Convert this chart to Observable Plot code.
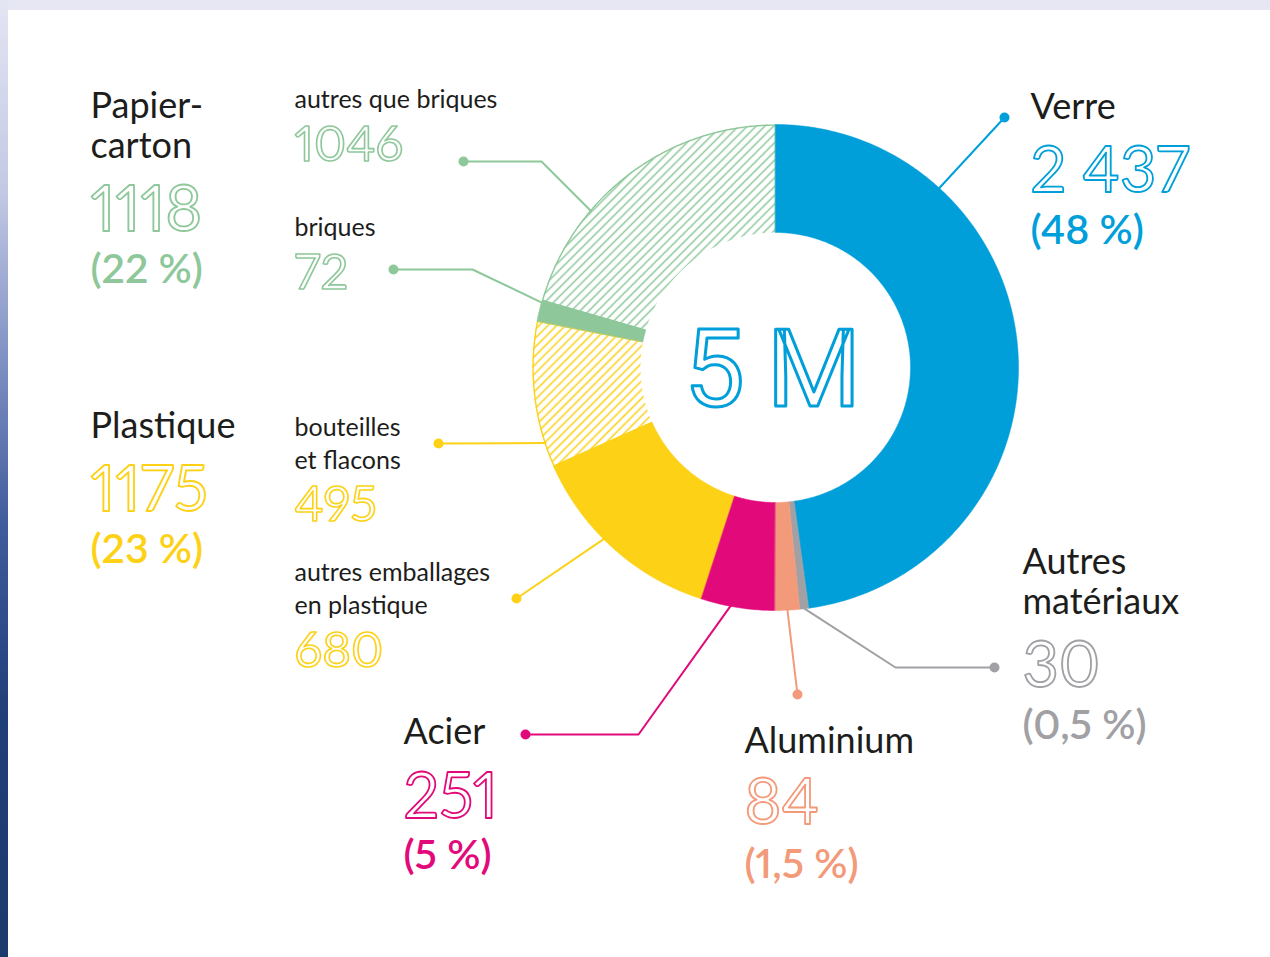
<!DOCTYPE html>
<html><head><meta charset="utf-8">
<script src="https://cdn.jsdelivr.net/npm/d3@7"></script>
<script src="https://cdn.jsdelivr.net/npm/@observablehq/plot@0.6"></script>
<style>
html,body{margin:0;padding:0;background:#fff;}
#frame{position:relative;width:1270px;height:957px;overflow:hidden;background:#fff;}
#topband{position:absolute;left:0;top:0;width:1270px;height:10px;background:#e6e7f2;}
#leftband{position:absolute;left:0;top:0;width:8px;height:957px;
  background:linear-gradient(to bottom,#e3e5f2 0%,#c3c9e4 20%,#7e8fc2 38%,#3f5b9b 55%,#1f3f78 75%,#1b3a6c 100%);}
#chart{position:absolute;left:0;top:0;}
#chart text{font-variant-numeric:proportional-nums;}
</style></head>
<body>
<div id="frame"><div id="topband"></div><div id="leftband"></div><div id="chart"></div></div>
<svg width="0" height="0" style="position:absolute;left:0;top:0">
  <defs>
    <pattern id="hatch-green" patternUnits="userSpaceOnUse" width="6.2" height="6.2" patternTransform="rotate(45)">
      <rect width="6.2" height="6.2" fill="#fff"/>
      <line x1="3.1" y1="-1" x2="3.1" y2="7.2" stroke="#8ec89a" stroke-width="1.5"/>
    </pattern>
    <pattern id="hatch-yellow" patternUnits="userSpaceOnUse" width="6.2" height="6.2" patternTransform="rotate(45)">
      <rect width="6.2" height="6.2" fill="#fff"/>
      <line x1="3.1" y1="-1" x2="3.1" y2="7.2" stroke="#fcd116" stroke-width="1.5"/>
    </pattern>
  </defs>
</svg>
<script>
// ---------- DATA ----------
const sliceNames  = ["Verre", "Autres matériaux", "Aluminium", "Acier",
                     "autres emballages en plastique", "bouteilles et flacons",
                     "briques", "autres que briques"];
const sliceValues = [2437, 30, 84, 251, 680, 495, 72, 1046];
const sliceGroups = ["Verre", "Autres matériaux", "Aluminium", "Acier",
                     "Plastique", "Plastique", "Papier-carton", "Papier-carton"];
const sliceHatched = [false, false, false, false, false, true, false, true];

const groupNames  = ["Verre", "Autres matériaux", "Aluminium", "Acier", "Plastique", "Papier-carton"];
const groupTitles = ["Verre", "Autres\nmatériaux", "Aluminium", "Acier", "Plastique", "Papier-\ncarton"];
const groupValueLabels = ["2 437", "30", "84", "251", "1175", "1118"];
const groupShareLabels = ["(48\u00A0%)", "(0,5\u00A0%)", "(1,5\u00A0%)", "(5\u00A0%)", "(23\u00A0%)", "(22\u00A0%)"];

const subNames  = ["autres emballages\nen plastique", "bouteilles\net flacons", "briques", "autres que briques"];
const subValueLabels = ["680", "495", "72", "1046"];
const totalLabel = "5\u2009M";

// ---------- STYLE ----------
const groupColors = {
  "Verre": "#009fda", "Autres matériaux": "#a0a0a5", "Aluminium": "#f39a7b",
  "Acier": "#e2097a", "Plastique": "#fcd116", "Papier-carton": "#8ec89a"
};
const hatchFill = {"Plastique": "url(#hatch-yellow)", "Papier-carton": "url(#hatch-green)"};
const ink = "#1d1d1b";
const font = "Lato, 'Open Sans', sans-serif";
const numFont = "Lato, Roboto, sans-serif";
const bigFont = "Roboto, Lato, sans-serif";

// ---------- LAYOUT ----------
const donut = {cx: 775, cy: 367, r0: 135, r1: 243};
const groupLayout = {
  "Verre":            {x: 1030, title: 118, value: 191, share: 243},
  "Autres matériaux": {x: 1022, title: 613, value: 686, share: 738},
  "Aluminium":        {x: 744,  title: 752, value: 823, share: 877},
  "Acier":            {x: 403,  title: 743, value: 817, share: 868},
  "Plastique":        {x: 90,   title: 437, value: 510, share: 562},
  "Papier-carton":    {x: 90,   title: 157, value: 230, share: 282}
};
const subLayout = {
  "autres emballages\nen plastique": {x: 294, title: 613, value: 666},
  "bouteilles\net flacons":          {x: 294, title: 468, value: 520},
  "briques":                         {x: 294, title: 235, value: 288},
  "autres que briques":              {x: 294, title: 107, value: 160}
};
// leader lines: slice index, attachment angle (deg, clockwise from top), elbow, dot
const leaders = [
  {slice: 0, angle: 42.4,  elbow: null,       dot: [1004, 117]},
  {slice: 1, angle: 173.4, elbow: [895, 667], dot: [994, 667]},
  {slice: 2, angle: 177.2, elbow: null,       dot: [797, 694]},
  {slice: 3, angle: 190.6, elbow: [638, 734], dot: [525, 734]},
  {slice: 4, angle: 225,   elbow: null,       dot: [516, 598]},
  {slice: 5, angle: 251.8, elbow: null,       dot: [438, 443]},
  {slice: 6, angle: 285.5, elbow: [472, 269], dot: [393, 269]},
  {slice: 7, angle: 310.3, elbow: [541, 161], dot: [463, 161]}
];

// ---------- GEOMETRY ----------
const pie = d3.pie().sort(null).value(d => d).startAngle(0).endAngle(2 * Math.PI)(sliceValues);
const pt = (a, r) => ({x: donut.cx + r * Math.sin(a), y: donut.cy - r * Math.cos(a)});
function ring(a0, a1) {
  const n = Math.max(2, Math.ceil((a1 - a0) / 0.01));
  const out = d3.range(n + 1).map(i => pt(a0 + (a1 - a0) * i / n, donut.r1));
  const inn = d3.range(n + 1).map(i => pt(a1 - (a1 - a0) * i / n, donut.r0));
  return out.concat(inn);
}
function outline(a0, a1) {
  const n = Math.max(2, Math.ceil((a1 - a0) / 0.01));
  return [pt(a0, donut.r0 + 1)]
    .concat(d3.range(n + 1).map(i => pt(a0 + (a1 - a0) * i / n, donut.r1 - 0.6)))
    .concat([pt(a1, donut.r0 + 1)]);
}

const marks = [];
pie.forEach((p, i) => {
  if (!sliceHatched[i]) return;
  const g = sliceGroups[i];
  marks.push(Plot.line(ring(p.startAngle, p.endAngle), {x: "x", y: "y", curve: "linear-closed", fill: hatchFill[g], stroke: "none"}));
  marks.push(Plot.line(outline(p.startAngle, p.endAngle), {x: "x", y: "y", stroke: groupColors[g], strokeWidth: 1.4}));
});
pie.forEach((p, i) => {
  if (sliceHatched[i]) return;
  const g = sliceGroups[i];
  marks.push(Plot.line(ring(p.startAngle, p.endAngle), {x: "x", y: "y", curve: "linear-closed", fill: groupColors[g], stroke: groupColors[g], strokeWidth: 0.5}));
});
leaders.forEach(l => {
  const col = groupColors[sliceGroups[l.slice]];
  const a = pt(l.angle * Math.PI / 180, donut.r1 - 1);
  const pts = [a];
  if (l.elbow) pts.push({x: l.elbow[0], y: l.elbow[1]});
  pts.push({x: l.dot[0], y: l.dot[1]});
  marks.push(Plot.line(pts, {x: "x", y: "y", stroke: col, strokeWidth: 2}));
  marks.push(Plot.dot([pts[pts.length - 1]], {x: "x", y: "y", r: 5, fill: col, stroke: "none"}));
});
marks.push(Plot.text([totalLabel], {x: () => donut.cx - 3, y: () => 405, text: d => d, fontSize: 108, fontFamily: bigFont,
  textAnchor: "middle", lineAnchor: "bottom", fill: "white", stroke: groupColors["Verre"], strokeWidth: 3, paintOrder: "fill"}));
groupNames.forEach((g, i) => {
  const L = groupLayout[g], col = groupColors[g];
  marks.push(Plot.text([groupTitles[i]], {x: () => L.x, y: () => L.title, text: d => d, fontSize: 36, fontFamily: font,
    textAnchor: "start", lineAnchor: "bottom", lineHeight: 1.1, fill: ink}));
  marks.push(Plot.text([groupValueLabels[i]], {x: () => L.x, y: () => L.value, text: d => d, fontSize: 63, fontFamily: numFont,
    textAnchor: "start", lineAnchor: "bottom", fill: "white", stroke: col, strokeWidth: 1.8, paintOrder: "fill",
    strokeLinejoin: "round"}));
  marks.push(Plot.text([groupShareLabels[i]], {x: () => L.x, y: () => L.share, text: d => d, fontSize: 41, fontFamily: font,
    fontWeight: 600, textAnchor: "start", lineAnchor: "bottom", fill: col}));
});
subNames.forEach((s, i) => {
  const L = subLayout[s];
  const col = groupColors[i < 2 ? "Plastique" : "Papier-carton"];
  marks.push(Plot.text([s], {x: () => L.x, y: () => L.title, text: d => d, fontSize: 25, fontFamily: font,
    textAnchor: "start", lineAnchor: "bottom", lineHeight: 1.32, fill: ink}));
  marks.push(Plot.text([subValueLabels[i]], {x: () => L.x, y: () => L.value, text: d => d, fontSize: 49, fontFamily: numFont,
    textAnchor: "start", lineAnchor: "bottom", fill: "white", stroke: col, strokeWidth: 1.6, paintOrder: "fill",
    strokeLinejoin: "round"}));
});

const chart = Plot.plot({
  width: 1270, height: 957, margin: 0,
  x: {domain: [0, 1270], range: [0, 1270], axis: null},
  y: {domain: [0, 957], range: [0, 957], axis: null},
  style: {background: "transparent", overflow: "visible"},
  marks
});
document.getElementById("chart").appendChild(chart);
</script>
</body></html>
